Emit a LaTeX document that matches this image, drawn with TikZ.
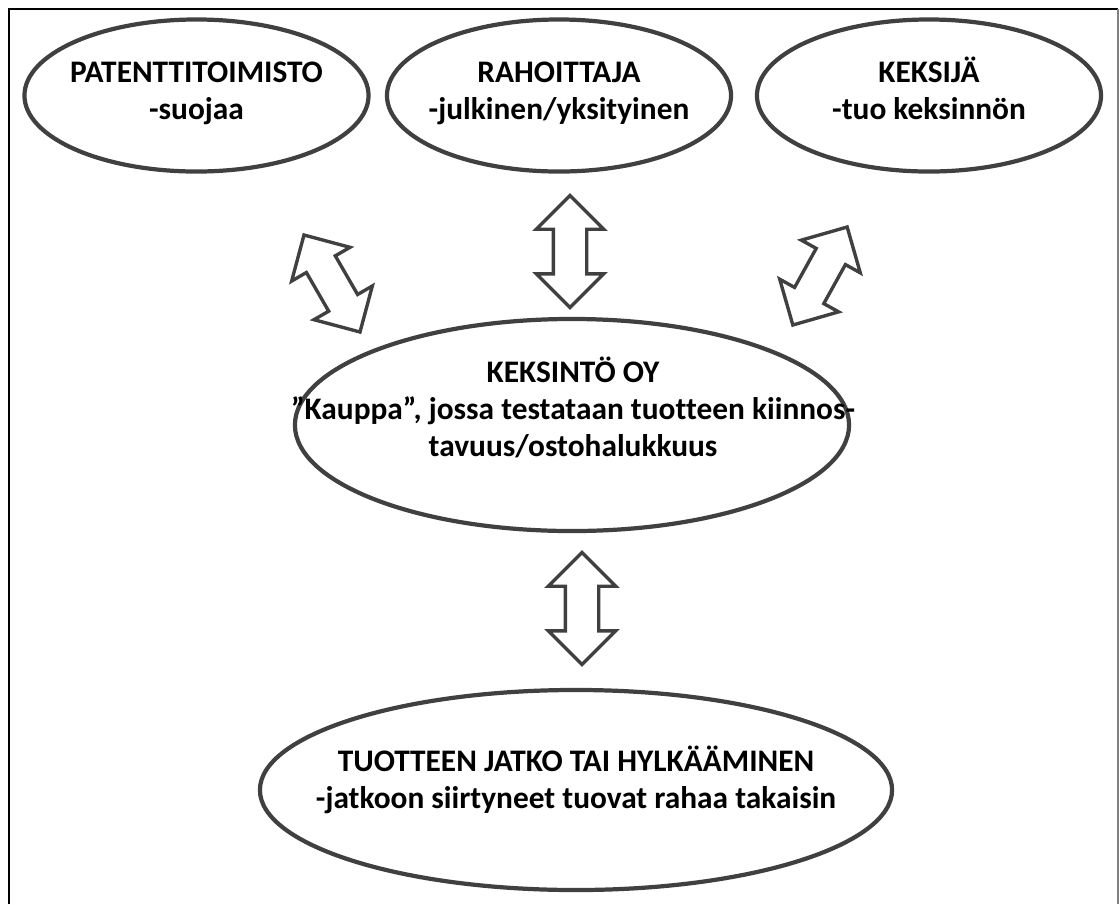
\documentclass[tikz,border=0pt]{standalone}
\usepackage{fontspec}
\setmainfont{Carlito}[Ligatures=NoCommon]
\usepackage{tikz}
\usetikzlibrary{shapes.geometric,shapes.arrows}

\definecolor{reuna}{HTML}{404040}

\tikzset{
  soikio/.style={draw=reuna, line width=3pt, ellipse, inner sep=0pt},
  teksti/.style={font=\fontsize{22.3}{26.3}\selectfont\bfseries, align=center, inner sep=0pt},
  nuoli/.style={draw=reuna, line width=2.4pt, double arrow, double arrow tip angle=90,
    double arrow head extend=0.425cm, inner xsep=0pt, inner ysep=0.375cm, minimum height=2.8cm}
}

\begin{document}
\begin{tikzpicture}[x=0.025cm, y=-0.025cm]
    \useasboundingbox (0,0) rectangle (1120,904);

    % Draw the frame
    \draw[line width=1pt] (9,904) -- (9,9) -- (1118,9);
    \draw[line width=0.8pt, gray] (1118,9) -- (1118,904);

    % Draw the ellipses
    \node[soikio, minimum width=8.6cm, minimum height=3.8cm] (patentti) at (196.5,95.5) {};
    \node[soikio, minimum width=8.6cm, minimum height=3.8cm] (rahoittaja) at (559,95.5) {};
    \node[soikio, minimum width=8.6cm, minimum height=3.8cm] (keksija) at (929,95.5) {};
    \node[soikio, minimum width=13.85cm, minimum height=5.3cm] (keksinto) at (572,425) {};
    \node[soikio, minimum width=15.8cm, minimum height=5cm] (jatko) at (576,790) {};

    % Texts inside the ellipses
    \node[teksti] (patentti-t) at (196.5,94) {\strut PATENTTITOIMISTO\\ \strut -suojaa};
    \node[teksti] (rahoittaja-t) at (559,94) {\strut RAHOITTAJA\\ \strut -julkinen/yksityinen};
    \node[teksti] (keksija-t) at (929,94) {\strut KEKSIJÄ\\ \strut -tuo keksinnön};
    \node[teksti] (keksinto-t) at (573,412) {\strut KEKSINTÖ OY\\ \strut ”Kauppa”, jossa testataan tuotteen kiinnos-\\ \strut tavuus/ostohalukkuus};
    \node[teksti] (jatko-t) at (576,783) {\strut TUOTTEEN JATKO TAI HYLKÄÄMINEN\\ \strut -jatkoon siirtyneet tuovat rahaa takaisin};

    % Draw the double arrows
    \node[nuoli, rotate=-60] (nuoli1) at (332,283.5) {};
    \node[nuoli, rotate=90] (nuoli2) at (570,251.5) {};
    \node[nuoli, rotate=61] (nuoli3) at (820,276) {};
    \node[nuoli, rotate=90] (nuoli4) at (582,608.5) {};

\end{tikzpicture}
\end{document}
